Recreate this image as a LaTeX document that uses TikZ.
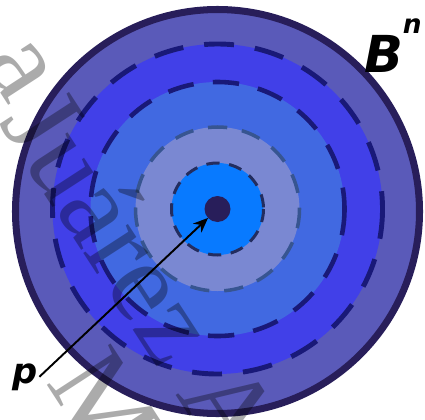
\documentclass[tikz,border=0pt]{standalone}
\usepackage{fontspec}
\usepackage{tikz}
\usetikzlibrary{positioning,arrows.meta}
\newfontfamily\tagfont{DejaVu Sans}
\newfontfamily\wmfont{Liberation Serif}
\definecolor{BallFill}{RGB}{90,90,185}
\definecolor{BallRim}{RGB}{40,30,90}
\definecolor{RingBlue}{RGB}{65,64,232}
\definecolor{RoyalBlue}{RGB}{65,105,225}
\definecolor{Lavender}{RGB}{122,136,210}
\definecolor{CoreBlue}{RGB}{8,122,255}
\definecolor{DashNavy}{RGB}{25,25,120}
\definecolor{DashSteel}{RGB}{55,85,145}
\definecolor{DashInk}{RGB}{35,45,95}
\tikzset{
	rim/.style={draw=BallRim,line width=4pt},
	centre/.style={circle,fill=BallRim,inner sep=0pt,outer sep=0pt,minimum size=0.52cm},
	tag/.style={font=\tagfont\bfseries\itshape\fontsize{#1}{#1}\selectfont,inner sep=1pt,anchor=base west},
	wmark/.style={font=\wmfont\fontsize{66}{66}\selectfont,text=black,text opacity=0.33,inner sep=0pt,rotate=-57,anchor=base west},
	arr/.style={-{Stealth[length=8.5pt,width=7pt]},line width=1.1pt},
}
\begin{document}
\begin{tikzpicture}[x=0.02cm,y=-0.02cm]
	\useasboundingbox (0,0) rectangle (425,419);
	\coordinate (o) at (217.5,211.5);
	\coordinate (c) at (217.5,209);
	% ball and nested balls
	\fill[BallFill] (o) circle (202);
	\foreach \r/\col in {165/RingBlue,127/RoyalBlue,82/Lavender,46/CoreBlue}
	\fill[\col] (c) circle (\r);
	\foreach \r/\on/\off/\w/\col in {165/17pt/12pt/2.8pt/DashNavy,127/15pt/11pt/2.6pt/DashNavy,82/11pt/8.5pt/2pt/DashSteel,46/7.5pt/5.5pt/1.7pt/DashInk}
	\draw[\col,line width=\w,dash pattern=on \on off \off] (c) circle (\r);
	\draw[rim] (o) circle (202);
	% watermark
	\node[wmark] (wma) at (-19,63) {a};
	\node[wmark] (wmb) at (-2,122) {Juárez A};
	\node[wmark] (wmc) at (45,382) {M};
	% labels
	\node[centre] (pt) at (c) {};
	\node[tag=20] (plabel) at (10,383) {p};
	\node[tag=29] (ball) at (362,72) {B\raisebox{22pt}{\fontsize{15}{15}\selectfont n}};
	\draw[arr] (plabel.east) -- (pt);
\end{tikzpicture}
\end{document}
